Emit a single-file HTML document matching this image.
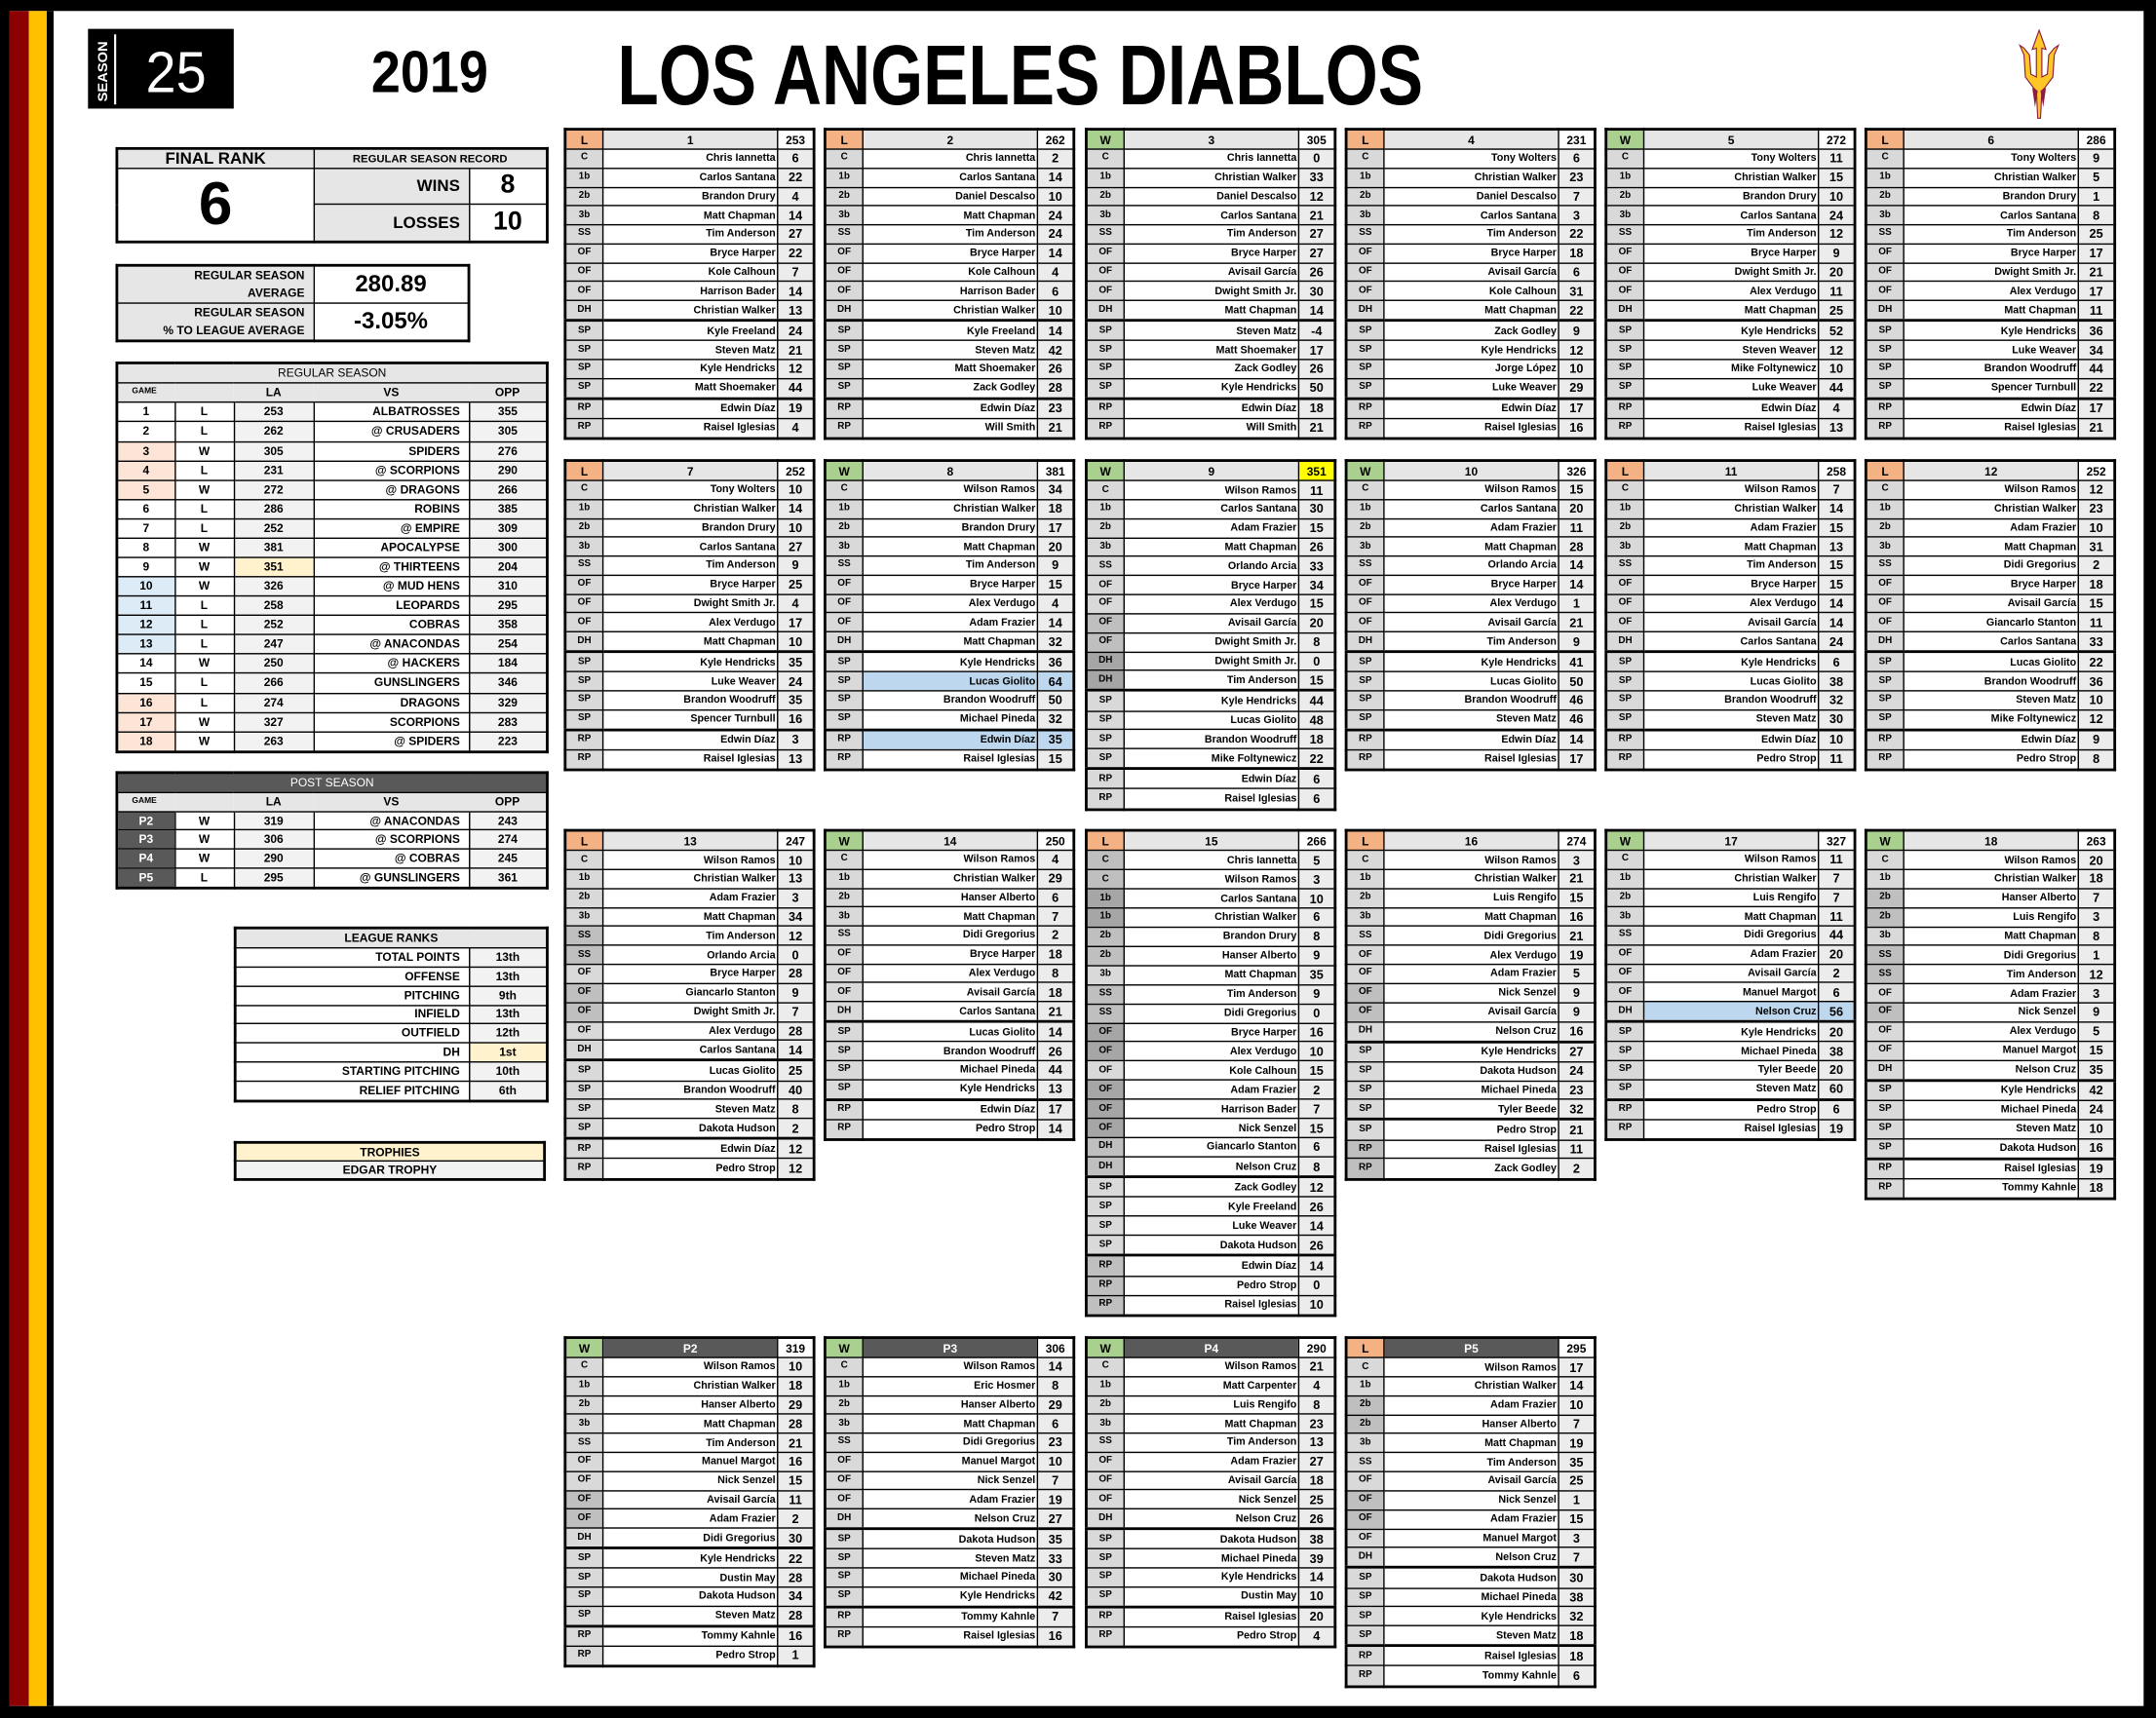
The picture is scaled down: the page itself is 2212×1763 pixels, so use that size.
<!DOCTYPE html>
<html><head><meta charset="utf-8"><style>
html,body{margin:0;padding:0;width:2212px;height:1763px;overflow:hidden;background:#fff}
#w{position:absolute;left:0;top:0;width:1568px;height:1250px;transform:scale(1.41071);transform-origin:0 0;background:#fff;font-family:"Liberation Sans",sans-serif}
.a{position:absolute}
table{position:absolute;border-collapse:collapse;table-layout:fixed;border:2px solid #000}
td{border:1px solid #000;padding:0;white-space:nowrap;overflow:hidden}
.g{width:183px;font:bold 7.6px "Liberation Sans Narrow","Liberation Sans",sans-serif}
.g td{line-height:8px}
.g td:nth-child(1){width:26px;background:#d9d9d9;text-align:center;font-size:7px}
.g td:nth-child(2){background:#fff;text-align:right;padding-right:1px}
.g td:nth-child(3){width:25px;background:#ececec;text-align:center;font-size:9px}
.g tr:first-child td{background:#e7e6e6;text-align:center;font-size:8.5px;padding:0}
.g tr:first-child td:nth-child(3){background:#fff}
.g tr.t td{border-top-width:2px}
.g tr:first-child td.L{background:#f4b183}.g tr:first-child td.W{background:#a9d08e}
.g tr:first-child td.Y{background:#ffff00}
.g tr:first-child td.P{background:#595959;color:#fff}
.g td.d{background:#bfbfbf}.g td.dd{background:#a6a6a6}
.g tr.b td:nth-child(2),.g tr.b td:nth-child(3){background:#bdd7ee}
.r{font:bold 8.5px "Liberation Sans",sans-serif}
.r td{text-align:center;line-height:9px}
.gy{background:#e7e6e6}.lg{background:#f2f2f2}.pe{background:#fce4d6}.bl{background:#ddebf7}.ye{background:#fff2cc}.dk{background:#595959;color:#fff}
.rt{text-align:right!important;padding-right:6px}
</style></head><body><div id="w">
<div class="a" style="left:0;top:0;width:1568px;height:8px;background:#000"></div>
<div class="a" style="left:0;top:1241px;width:1568px;height:9px;background:#000"></div>
<div class="a" style="left:1559px;top:0;width:9px;height:1250px;background:#000"></div>
<div class="a" style="left:0;top:0;width:7px;height:1250px;background:#000"></div>
<div class="a" style="left:7px;top:8px;width:14px;height:1233px;background:#8b0000"></div>
<div class="a" style="left:21px;top:8px;width:13px;height:1233px;background:#ffc000"></div>
<div class="a" style="left:34px;top:8px;width:5px;height:1233px;background:#000"></div>
<svg class="a" style="left:0;top:0" width="1568" height="92">
<rect x="64" y="21" width="106" height="58" fill="#000"/>
<rect x="83" y="25" width="1.5" height="51" fill="#fff"/>
<text transform="translate(78,74) rotate(-90)" font-family="Liberation Sans" font-weight="bold" font-size="10" fill="#fff" textLength="44" lengthAdjust="spacingAndGlyphs">SEASON</text>
<text x="106" y="67" font-family="Liberation Sans" font-size="42" fill="#fff" textLength="44" lengthAdjust="spacingAndGlyphs">25</text>
<text x="270" y="67" font-family="Liberation Sans" font-weight="bold" font-size="43" fill="#000" textLength="85" lengthAdjust="spacingAndGlyphs">2019</text>
<text x="449" y="76" font-family="Liberation Sans" font-weight="bold" font-size="62" fill="#000" textLength="586" lengthAdjust="spacingAndGlyphs">LOS ANGELES DIABLOS</text>
<g fill="#ffc627" stroke="#8c1d40" stroke-width="0.8">
<path d="M1483,22 L1488,36 L1485,35 L1485,56 L1489,54 L1490,40 L1494,35 L1497,33 L1494,40 L1493,56 L1487,64 L1485,66 L1484,86 L1482,86 L1481,66 L1479,64 L1473,56 L1472,40 L1469,33 L1472,35 L1476,40 L1477,54 L1481,56 L1481,35 L1478,36 Z"/>
</g>
<path d="M1478,64 L1480,78 L1482,66 Z M1488,64 L1486,78 L1484,66 Z" fill="#8c1d40"/>
</svg>

<table class="r" style="left:84px;top:107px;width:313px;height:70px">
<colgroup><col style="width:143px"><col style="width:113px"><col style="width:57px"></colgroup>
<tr style="height:14px"><td class="gy" style="font-size:12px">FINAL RANK</td><td class="gy" colspan="2" style="font-size:8px">REGULAR SEASON RECORD</td></tr>
<tr><td rowspan="2" style="font-size:44px;line-height:44px">6</td><td class="gy rt" style="font-size:12px">WINS</td><td style="font-size:19px;line-height:20px">8</td></tr>
<tr><td class="gy rt" style="font-size:12px">LOSSES</td><td style="font-size:19px;line-height:20px">10</td></tr>
</table>
<table class="r" style="left:84px;top:192px;width:256px;height:56px">
<colgroup><col style="width:143px"><col style="width:113px"></colgroup>
<tr><td class="gy rt" style="font-size:8.5px;line-height:13px;padding-right:6px">REGULAR SEASON<br>AVERAGE</td><td style="font-size:17px;line-height:18px">280.89</td></tr>
<tr><td class="gy rt" style="font-size:8.5px;line-height:13px">REGULAR SEASON<br>% TO LEAGUE AVERAGE</td><td style="font-size:17px;line-height:18px">-3.05%</td></tr>
</table>
<table class="r" style="left:84px;top:263px;width:313px;height:285px">
<colgroup><col style="width:42px"><col style="width:43px"><col style="width:58px"><col style="width:113px"><col style="width:57px"></colgroup>
<tr><td colspan="5" class="gy" style="font-weight:normal">REGULAR SEASON</td></tr>
<tr class="gy"><td style="font-size:6px;text-align:left;padding-left:10px;border-right:0">GAME</td><td style="border-left:0;border-right:0"></td><td style="border-left:0;border-right:0">LA</td><td style="border-left:0;border-right:0">VS</td><td style="border-left:0">OPP</td></tr>
<tr><td>1</td><td>L</td><td class="lg">253</td><td class="rt">ALBATROSSES</td><td class="lg">355</td></tr>
<tr><td>2</td><td>L</td><td class="lg">262</td><td class="rt">@ CRUSADERS</td><td class="lg">305</td></tr>
<tr><td class="pe">3</td><td>W</td><td class="lg">305</td><td class="rt">SPIDERS</td><td class="lg">276</td></tr>
<tr><td class="pe">4</td><td>L</td><td class="lg">231</td><td class="rt">@ SCORPIONS</td><td class="lg">290</td></tr>
<tr><td class="pe">5</td><td>W</td><td class="lg">272</td><td class="rt">@ DRAGONS</td><td class="lg">266</td></tr>
<tr><td>6</td><td>L</td><td class="lg">286</td><td class="rt">ROBINS</td><td class="lg">385</td></tr>
<tr><td>7</td><td>L</td><td class="lg">252</td><td class="rt">@ EMPIRE</td><td class="lg">309</td></tr>
<tr><td>8</td><td>W</td><td class="lg">381</td><td class="rt">APOCALYPSE</td><td class="lg">300</td></tr>
<tr><td>9</td><td>W</td><td class="ye">351</td><td class="rt">@ THIRTEENS</td><td class="lg">204</td></tr>
<tr><td class="bl">10</td><td>W</td><td class="lg">326</td><td class="rt">@ MUD HENS</td><td class="lg">310</td></tr>
<tr><td class="bl">11</td><td>L</td><td class="lg">258</td><td class="rt">LEOPARDS</td><td class="lg">295</td></tr>
<tr><td class="bl">12</td><td>L</td><td class="lg">252</td><td class="rt">COBRAS</td><td class="lg">358</td></tr>
<tr><td class="bl">13</td><td>L</td><td class="lg">247</td><td class="rt">@ ANACONDAS</td><td class="lg">254</td></tr>
<tr><td>14</td><td>W</td><td class="lg">250</td><td class="rt">@ HACKERS</td><td class="lg">184</td></tr>
<tr><td>15</td><td>L</td><td class="lg">266</td><td class="rt">GUNSLINGERS</td><td class="lg">346</td></tr>
<tr><td class="pe">16</td><td>L</td><td class="lg">274</td><td class="rt">DRAGONS</td><td class="lg">329</td></tr>
<tr><td class="pe">17</td><td>W</td><td class="lg">327</td><td class="rt">SCORPIONS</td><td class="lg">283</td></tr>
<tr><td class="pe">18</td><td>W</td><td class="lg">263</td><td class="rt">@ SPIDERS</td><td class="lg">223</td></tr>
</table>
<table class="r" style="left:84px;top:561px;width:313px;height:86px">
<colgroup><col style="width:42px"><col style="width:43px"><col style="width:58px"><col style="width:113px"><col style="width:57px"></colgroup>
<tr><td colspan="5" class="dk" style="font-weight:normal">POST SEASON</td></tr>
<tr class="gy"><td style="font-size:6px;text-align:left;padding-left:10px;border-right:0">GAME</td><td style="border-left:0;border-right:0"></td><td style="border-left:0;border-right:0">LA</td><td style="border-left:0;border-right:0">VS</td><td style="border-left:0">OPP</td></tr>
<tr><td class="dk">P2</td><td>W</td><td class="lg">319</td><td class="rt">@ ANACONDAS</td><td class="lg">243</td></tr>
<tr><td class="dk">P3</td><td>W</td><td class="lg">306</td><td class="rt">@ SCORPIONS</td><td class="lg">274</td></tr>
<tr><td class="dk">P4</td><td>W</td><td class="lg">290</td><td class="rt">@ COBRAS</td><td class="lg">245</td></tr>
<tr><td class="dk">P5</td><td>L</td><td class="lg">295</td><td class="rt">@ GUNSLINGERS</td><td class="lg">361</td></tr>
</table>
<table class="r" style="left:170px;top:674px;width:227px;height:128px">
<colgroup><col style="width:170px"><col style="width:57px"></colgroup>
<tr><td colspan="2" class="gy">LEAGUE RANKS</td></tr>
<tr><td class="rt">TOTAL POINTS</td><td class="lg">13th</td></tr>
<tr><td class="rt">OFFENSE</td><td class="lg">13th</td></tr>
<tr><td class="rt">PITCHING</td><td class="lg">9th</td></tr>
<tr><td class="rt">INFIELD</td><td class="lg">13th</td></tr>
<tr><td class="rt">OUTFIELD</td><td class="lg">12th</td></tr>
<tr><td class="rt">DH</td><td class="ye">1st</td></tr>
<tr><td class="rt">STARTING PITCHING</td><td class="lg">10th</td></tr>
<tr><td class="rt">RELIEF PITCHING</td><td class="lg">6th</td></tr>
</table>
<table class="r" style="left:170px;top:830px;width:227px;height:29px">
<tr><td class="ye">TROPHIES</td></tr>
<tr><td class="lg">EDGAR TROPHY</td></tr>
</table>

<!-- ROW 1 -->
<table class="g" style="left:410px;top:93px;height:227px">
<tr><td class="L">L</td><td>1</td><td>253</td></tr>
<tr><td>C</td><td>Chris Iannetta</td><td>6</td></tr>
<tr><td>1b</td><td>Carlos Santana</td><td>22</td></tr>
<tr><td>2b</td><td>Brandon Drury</td><td>4</td></tr>
<tr><td>3b</td><td>Matt Chapman</td><td>14</td></tr>
<tr><td>SS</td><td>Tim Anderson</td><td>27</td></tr>
<tr><td>OF</td><td>Bryce Harper</td><td>22</td></tr>
<tr><td>OF</td><td>Kole Calhoun</td><td>7</td></tr>
<tr><td>OF</td><td>Harrison Bader</td><td>14</td></tr>
<tr><td>DH</td><td>Christian Walker</td><td>13</td></tr>
<tr class="t"><td>SP</td><td>Kyle Freeland</td><td>24</td></tr>
<tr><td>SP</td><td>Steven Matz</td><td>21</td></tr>
<tr><td>SP</td><td>Kyle Hendricks</td><td>12</td></tr>
<tr><td>SP</td><td>Matt Shoemaker</td><td>44</td></tr>
<tr class="t"><td>RP</td><td>Edwin Díaz</td><td>19</td></tr>
<tr><td>RP</td><td>Raisel Iglesias</td><td>4</td></tr>
</table>
<table class="g" style="left:599px;top:93px;height:227px">
<tr><td class="L">L</td><td>2</td><td>262</td></tr>
<tr><td>C</td><td>Chris Iannetta</td><td>2</td></tr>
<tr><td>1b</td><td>Carlos Santana</td><td>14</td></tr>
<tr><td>2b</td><td>Daniel Descalso</td><td>10</td></tr>
<tr><td>3b</td><td>Matt Chapman</td><td>24</td></tr>
<tr><td>SS</td><td>Tim Anderson</td><td>24</td></tr>
<tr><td>OF</td><td>Bryce Harper</td><td>14</td></tr>
<tr><td>OF</td><td>Kole Calhoun</td><td>4</td></tr>
<tr><td>OF</td><td>Harrison Bader</td><td>6</td></tr>
<tr><td>DH</td><td>Christian Walker</td><td>10</td></tr>
<tr class="t"><td>SP</td><td>Kyle Freeland</td><td>14</td></tr>
<tr><td>SP</td><td>Steven Matz</td><td>42</td></tr>
<tr><td>SP</td><td>Matt Shoemaker</td><td>26</td></tr>
<tr><td>SP</td><td>Zack Godley</td><td>28</td></tr>
<tr class="t"><td>RP</td><td>Edwin Díaz</td><td>23</td></tr>
<tr><td>RP</td><td>Will Smith</td><td>21</td></tr>
</table>
<table class="g" style="left:789px;top:93px;height:227px">
<tr><td class="W">W</td><td>3</td><td>305</td></tr>
<tr><td>C</td><td>Chris Iannetta</td><td>0</td></tr>
<tr><td>1b</td><td>Christian Walker</td><td>33</td></tr>
<tr><td>2b</td><td>Daniel Descalso</td><td>12</td></tr>
<tr><td>3b</td><td>Carlos Santana</td><td>21</td></tr>
<tr><td>SS</td><td>Tim Anderson</td><td>27</td></tr>
<tr><td>OF</td><td>Bryce Harper</td><td>27</td></tr>
<tr><td>OF</td><td>Avisail García</td><td>26</td></tr>
<tr><td>OF</td><td>Dwight Smith Jr.</td><td>30</td></tr>
<tr><td>DH</td><td>Matt Chapman</td><td>14</td></tr>
<tr class="t"><td>SP</td><td>Steven Matz</td><td>-4</td></tr>
<tr><td>SP</td><td>Matt Shoemaker</td><td>17</td></tr>
<tr><td>SP</td><td>Zack Godley</td><td>26</td></tr>
<tr><td>SP</td><td>Kyle Hendricks</td><td>50</td></tr>
<tr class="t"><td>RP</td><td>Edwin Díaz</td><td>18</td></tr>
<tr><td>RP</td><td>Will Smith</td><td>21</td></tr>
</table>
<table class="g" style="left:978px;top:93px;height:227px">
<tr><td class="L">L</td><td>4</td><td>231</td></tr>
<tr><td>C</td><td>Tony Wolters</td><td>6</td></tr>
<tr><td>1b</td><td>Christian Walker</td><td>23</td></tr>
<tr><td>2b</td><td>Daniel Descalso</td><td>7</td></tr>
<tr><td>3b</td><td>Carlos Santana</td><td>3</td></tr>
<tr><td>SS</td><td>Tim Anderson</td><td>22</td></tr>
<tr><td>OF</td><td>Bryce Harper</td><td>18</td></tr>
<tr><td>OF</td><td>Avisail García</td><td>6</td></tr>
<tr><td>OF</td><td>Kole Calhoun</td><td>31</td></tr>
<tr><td>DH</td><td>Matt Chapman</td><td>22</td></tr>
<tr class="t"><td>SP</td><td>Zack Godley</td><td>9</td></tr>
<tr><td>SP</td><td>Kyle Hendricks</td><td>12</td></tr>
<tr><td>SP</td><td>Jorge López</td><td>10</td></tr>
<tr><td>SP</td><td>Luke Weaver</td><td>29</td></tr>
<tr class="t"><td>RP</td><td>Edwin Díaz</td><td>17</td></tr>
<tr><td>RP</td><td>Raisel Iglesias</td><td>16</td></tr>
</table>
<table class="g" style="left:1167px;top:93px;height:227px">
<tr><td class="W">W</td><td>5</td><td>272</td></tr>
<tr><td>C</td><td>Tony Wolters</td><td>11</td></tr>
<tr><td>1b</td><td>Christian Walker</td><td>15</td></tr>
<tr><td>2b</td><td>Brandon Drury</td><td>10</td></tr>
<tr><td>3b</td><td>Carlos Santana</td><td>24</td></tr>
<tr><td>SS</td><td>Tim Anderson</td><td>12</td></tr>
<tr><td>OF</td><td>Bryce Harper</td><td>9</td></tr>
<tr><td>OF</td><td>Dwight Smith Jr.</td><td>20</td></tr>
<tr><td>OF</td><td>Alex Verdugo</td><td>11</td></tr>
<tr><td>DH</td><td>Matt Chapman</td><td>25</td></tr>
<tr class="t"><td>SP</td><td>Kyle Hendricks</td><td>52</td></tr>
<tr><td>SP</td><td>Steven Weaver</td><td>12</td></tr>
<tr><td>SP</td><td>Mike Foltynewicz</td><td>10</td></tr>
<tr><td>SP</td><td>Luke Weaver</td><td>44</td></tr>
<tr class="t"><td>RP</td><td>Edwin Díaz</td><td>4</td></tr>
<tr><td>RP</td><td>Raisel Iglesias</td><td>13</td></tr>
</table>
<table class="g" style="left:1356px;top:93px;height:227px">
<tr><td class="L">L</td><td>6</td><td>286</td></tr>
<tr><td>C</td><td>Tony Wolters</td><td>9</td></tr>
<tr><td>1b</td><td>Christian Walker</td><td>5</td></tr>
<tr><td>2b</td><td>Brandon Drury</td><td>1</td></tr>
<tr><td>3b</td><td>Carlos Santana</td><td>8</td></tr>
<tr><td>SS</td><td>Tim Anderson</td><td>25</td></tr>
<tr><td>OF</td><td>Bryce Harper</td><td>17</td></tr>
<tr><td>OF</td><td>Dwight Smith Jr.</td><td>21</td></tr>
<tr><td>OF</td><td>Alex Verdugo</td><td>17</td></tr>
<tr><td>DH</td><td>Matt Chapman</td><td>11</td></tr>
<tr class="t"><td>SP</td><td>Kyle Hendricks</td><td>36</td></tr>
<tr><td>SP</td><td>Luke Weaver</td><td>34</td></tr>
<tr><td>SP</td><td>Brandon Woodruff</td><td>44</td></tr>
<tr><td>SP</td><td>Spencer Turnbull</td><td>22</td></tr>
<tr class="t"><td>RP</td><td>Edwin Díaz</td><td>17</td></tr>
<tr><td>RP</td><td>Raisel Iglesias</td><td>21</td></tr>
</table>

<!-- ROW 2 -->
<table class="g" style="left:410px;top:334px;height:227px">
<tr><td class="L">L</td><td>7</td><td>252</td></tr>
<tr><td>C</td><td>Tony Wolters</td><td>10</td></tr>
<tr><td>1b</td><td>Christian Walker</td><td>14</td></tr>
<tr><td>2b</td><td>Brandon Drury</td><td>10</td></tr>
<tr><td>3b</td><td>Carlos Santana</td><td>27</td></tr>
<tr><td>SS</td><td>Tim Anderson</td><td>9</td></tr>
<tr><td>OF</td><td>Bryce Harper</td><td>25</td></tr>
<tr><td>OF</td><td>Dwight Smith Jr.</td><td>4</td></tr>
<tr><td>OF</td><td>Alex Verdugo</td><td>17</td></tr>
<tr><td>DH</td><td>Matt Chapman</td><td>10</td></tr>
<tr class="t"><td>SP</td><td>Kyle Hendricks</td><td>35</td></tr>
<tr><td>SP</td><td>Luke Weaver</td><td>24</td></tr>
<tr><td>SP</td><td>Brandon Woodruff</td><td>35</td></tr>
<tr><td>SP</td><td>Spencer Turnbull</td><td>16</td></tr>
<tr class="t"><td>RP</td><td>Edwin Díaz</td><td>3</td></tr>
<tr><td>RP</td><td>Raisel Iglesias</td><td>13</td></tr>
</table>
<table class="g" style="left:599px;top:334px;height:227px">
<tr><td class="W">W</td><td>8</td><td>381</td></tr>
<tr><td>C</td><td>Wilson Ramos</td><td>34</td></tr>
<tr><td>1b</td><td>Christian Walker</td><td>18</td></tr>
<tr><td>2b</td><td>Brandon Drury</td><td>17</td></tr>
<tr><td>3b</td><td>Matt Chapman</td><td>20</td></tr>
<tr><td>SS</td><td>Tim Anderson</td><td>9</td></tr>
<tr><td>OF</td><td>Bryce Harper</td><td>15</td></tr>
<tr><td>OF</td><td>Alex Verdugo</td><td>4</td></tr>
<tr><td>OF</td><td>Adam Frazier</td><td>14</td></tr>
<tr><td>DH</td><td>Matt Chapman</td><td>32</td></tr>
<tr class="t"><td>SP</td><td>Kyle Hendricks</td><td>36</td></tr>
<tr class="b"><td>SP</td><td>Lucas Giolito</td><td>64</td></tr>
<tr><td>SP</td><td>Brandon Woodruff</td><td>50</td></tr>
<tr><td>SP</td><td>Michael Pineda</td><td>32</td></tr>
<tr class="t b"><td>RP</td><td>Edwin Díaz</td><td>35</td></tr>
<tr><td>RP</td><td>Raisel Iglesias</td><td>15</td></tr>
</table>
<table class="g" style="left:789px;top:334px;height:255.6px">
<tr><td class="W">W</td><td>9</td><td class="Y">351</td></tr>
<tr><td>C</td><td>Wilson Ramos</td><td>11</td></tr>
<tr><td>1b</td><td>Carlos Santana</td><td>30</td></tr>
<tr><td>2b</td><td>Adam Frazier</td><td>15</td></tr>
<tr><td>3b</td><td>Matt Chapman</td><td>26</td></tr>
<tr><td>SS</td><td>Orlando Arcia</td><td>33</td></tr>
<tr><td>OF</td><td>Bryce Harper</td><td>34</td></tr>
<tr><td>OF</td><td>Alex Verdugo</td><td>15</td></tr>
<tr><td class="d">OF</td><td>Avisail García</td><td>20</td></tr>
<tr><td class="d">OF</td><td>Dwight Smith Jr.</td><td>8</td></tr>
<tr><td class="dd">DH</td><td>Dwight Smith Jr.</td><td>0</td></tr>
<tr><td class="dd">DH</td><td>Tim Anderson</td><td>15</td></tr>
<tr class="t"><td>SP</td><td>Kyle Hendricks</td><td>44</td></tr>
<tr><td>SP</td><td>Lucas Giolito</td><td>48</td></tr>
<tr><td>SP</td><td>Brandon Woodruff</td><td>18</td></tr>
<tr><td>SP</td><td>Mike Foltynewicz</td><td>22</td></tr>
<tr class="t"><td>RP</td><td>Edwin Díaz</td><td>6</td></tr>
<tr><td>RP</td><td>Raisel Iglesias</td><td>6</td></tr>
</table>
<table class="g" style="left:978px;top:334px;height:227px">
<tr><td class="W">W</td><td>10</td><td>326</td></tr>
<tr><td>C</td><td>Wilson Ramos</td><td>15</td></tr>
<tr><td>1b</td><td>Carlos Santana</td><td>20</td></tr>
<tr><td>2b</td><td>Adam Frazier</td><td>11</td></tr>
<tr><td>3b</td><td>Matt Chapman</td><td>28</td></tr>
<tr><td>SS</td><td>Orlando Arcia</td><td>14</td></tr>
<tr><td>OF</td><td>Bryce Harper</td><td>14</td></tr>
<tr><td>OF</td><td>Alex Verdugo</td><td>1</td></tr>
<tr><td>OF</td><td>Avisail García</td><td>21</td></tr>
<tr><td>DH</td><td>Tim Anderson</td><td>9</td></tr>
<tr class="t"><td>SP</td><td>Kyle Hendricks</td><td>41</td></tr>
<tr><td>SP</td><td>Lucas Giolito</td><td>50</td></tr>
<tr><td>SP</td><td>Brandon Woodruff</td><td>46</td></tr>
<tr><td>SP</td><td>Steven Matz</td><td>46</td></tr>
<tr class="t"><td>RP</td><td>Edwin Díaz</td><td>14</td></tr>
<tr><td>RP</td><td>Raisel Iglesias</td><td>17</td></tr>
</table>
<table class="g" style="left:1167px;top:334px;height:227px">
<tr><td class="L">L</td><td>11</td><td>258</td></tr>
<tr><td>C</td><td>Wilson Ramos</td><td>7</td></tr>
<tr><td>1b</td><td>Christian Walker</td><td>14</td></tr>
<tr><td>2b</td><td>Adam Frazier</td><td>15</td></tr>
<tr><td>3b</td><td>Matt Chapman</td><td>13</td></tr>
<tr><td>SS</td><td>Tim Anderson</td><td>15</td></tr>
<tr><td>OF</td><td>Bryce Harper</td><td>15</td></tr>
<tr><td>OF</td><td>Alex Verdugo</td><td>14</td></tr>
<tr><td>OF</td><td>Avisail García</td><td>14</td></tr>
<tr><td>DH</td><td>Carlos Santana</td><td>24</td></tr>
<tr class="t"><td>SP</td><td>Kyle Hendricks</td><td>6</td></tr>
<tr><td>SP</td><td>Lucas Giolito</td><td>38</td></tr>
<tr><td>SP</td><td>Brandon Woodruff</td><td>32</td></tr>
<tr><td>SP</td><td>Steven Matz</td><td>30</td></tr>
<tr class="t"><td>RP</td><td>Edwin Díaz</td><td>10</td></tr>
<tr><td>RP</td><td>Pedro Strop</td><td>11</td></tr>
</table>
<table class="g" style="left:1356px;top:334px;height:227px">
<tr><td class="L">L</td><td>12</td><td>252</td></tr>
<tr><td>C</td><td>Wilson Ramos</td><td>12</td></tr>
<tr><td>1b</td><td>Christian Walker</td><td>23</td></tr>
<tr><td>2b</td><td>Adam Frazier</td><td>10</td></tr>
<tr><td>3b</td><td>Matt Chapman</td><td>31</td></tr>
<tr><td>SS</td><td>Didi Gregorius</td><td>2</td></tr>
<tr><td>OF</td><td>Bryce Harper</td><td>18</td></tr>
<tr><td>OF</td><td>Avisail García</td><td>15</td></tr>
<tr><td>OF</td><td>Giancarlo Stanton</td><td>11</td></tr>
<tr><td>DH</td><td>Carlos Santana</td><td>33</td></tr>
<tr class="t"><td>SP</td><td>Lucas Giolito</td><td>22</td></tr>
<tr><td>SP</td><td>Brandon Woodruff</td><td>36</td></tr>
<tr><td>SP</td><td>Steven Matz</td><td>10</td></tr>
<tr><td>SP</td><td>Mike Foltynewicz</td><td>12</td></tr>
<tr class="t"><td>RP</td><td>Edwin Díaz</td><td>9</td></tr>
<tr><td>RP</td><td>Pedro Strop</td><td>8</td></tr>
</table>

<!-- ROW 3 -->
<table class="g" style="left:410px;top:603px;height:255.6px">
<tr><td class="L">L</td><td>13</td><td>247</td></tr>
<tr><td>C</td><td>Wilson Ramos</td><td>10</td></tr>
<tr><td>1b</td><td>Christian Walker</td><td>13</td></tr>
<tr><td>2b</td><td>Adam Frazier</td><td>3</td></tr>
<tr><td>3b</td><td>Matt Chapman</td><td>34</td></tr>
<tr><td class="d">SS</td><td>Tim Anderson</td><td>12</td></tr>
<tr><td class="d">SS</td><td>Orlando Arcia</td><td>0</td></tr>
<tr><td>OF</td><td>Bryce Harper</td><td>28</td></tr>
<tr><td class="d">OF</td><td>Giancarlo Stanton</td><td>9</td></tr>
<tr><td class="d">OF</td><td>Dwight Smith Jr.</td><td>7</td></tr>
<tr><td>OF</td><td>Alex Verdugo</td><td>28</td></tr>
<tr><td>DH</td><td>Carlos Santana</td><td>14</td></tr>
<tr class="t"><td>SP</td><td>Lucas Giolito</td><td>25</td></tr>
<tr><td>SP</td><td>Brandon Woodruff</td><td>40</td></tr>
<tr><td>SP</td><td>Steven Matz</td><td>8</td></tr>
<tr><td>SP</td><td>Dakota Hudson</td><td>2</td></tr>
<tr class="t"><td>RP</td><td>Edwin Díaz</td><td>12</td></tr>
<tr><td>RP</td><td>Pedro Strop</td><td>12</td></tr>
</table>
<table class="g" style="left:599px;top:603px;height:227px">
<tr><td class="W">W</td><td>14</td><td>250</td></tr>
<tr><td>C</td><td>Wilson Ramos</td><td>4</td></tr>
<tr><td>1b</td><td>Christian Walker</td><td>29</td></tr>
<tr><td>2b</td><td>Hanser Alberto</td><td>6</td></tr>
<tr><td>3b</td><td>Matt Chapman</td><td>7</td></tr>
<tr><td>SS</td><td>Didi Gregorius</td><td>2</td></tr>
<tr><td>OF</td><td>Bryce Harper</td><td>18</td></tr>
<tr><td>OF</td><td>Alex Verdugo</td><td>8</td></tr>
<tr><td>OF</td><td>Avisail García</td><td>18</td></tr>
<tr><td>DH</td><td>Carlos Santana</td><td>21</td></tr>
<tr class="t"><td>SP</td><td>Lucas Giolito</td><td>14</td></tr>
<tr><td>SP</td><td>Brandon Woodruff</td><td>26</td></tr>
<tr><td>SP</td><td>Michael Pineda</td><td>44</td></tr>
<tr><td>SP</td><td>Kyle Hendricks</td><td>13</td></tr>
<tr class="t"><td>RP</td><td>Edwin Díaz</td><td>17</td></tr>
<tr><td>RP</td><td>Pedro Strop</td><td>14</td></tr>
</table>
<table class="g" style="left:789px;top:603px;height:355px">
<tr><td class="L">L</td><td>15</td><td>266</td></tr>
<tr><td class="d">C</td><td>Chris Iannetta</td><td>5</td></tr>
<tr><td class="d">C</td><td>Wilson Ramos</td><td>3</td></tr>
<tr><td class="dd">1b</td><td>Carlos Santana</td><td>10</td></tr>
<tr><td class="dd">1b</td><td>Christian Walker</td><td>6</td></tr>
<tr><td class="d">2b</td><td>Brandon Drury</td><td>8</td></tr>
<tr><td class="d">2b</td><td>Hanser Alberto</td><td>9</td></tr>
<tr><td>3b</td><td>Matt Chapman</td><td>35</td></tr>
<tr><td class="d">SS</td><td>Tim Anderson</td><td>9</td></tr>
<tr><td class="d">SS</td><td>Didi Gregorius</td><td>0</td></tr>
<tr><td class="dd">OF</td><td>Bryce Harper</td><td>16</td></tr>
<tr><td class="dd">OF</td><td>Alex Verdugo</td><td>10</td></tr>
<tr><td>OF</td><td>Kole Calhoun</td><td>15</td></tr>
<tr><td class="dd">OF</td><td>Adam Frazier</td><td>2</td></tr>
<tr><td class="dd">OF</td><td>Harrison Bader</td><td>7</td></tr>
<tr><td class="dd">OF</td><td>Nick Senzel</td><td>15</td></tr>
<tr><td class="d">DH</td><td>Giancarlo Stanton</td><td>6</td></tr>
<tr><td class="d">DH</td><td>Nelson Cruz</td><td>8</td></tr>
<tr class="t"><td>SP</td><td>Zack Godley</td><td>12</td></tr>
<tr><td>SP</td><td>Kyle Freeland</td><td>26</td></tr>
<tr><td>SP</td><td>Luke Weaver</td><td>14</td></tr>
<tr><td>SP</td><td>Dakota Hudson</td><td>26</td></tr>
<tr class="t"><td class="d">RP</td><td>Edwin Díaz</td><td>14</td></tr>
<tr><td class="d">RP</td><td>Pedro Strop</td><td>0</td></tr>
<tr><td class="d">RP</td><td>Raisel Iglesias</td><td>10</td></tr>
</table>
<table class="g" style="left:978px;top:603px;height:255.6px">
<tr><td class="L">L</td><td>16</td><td>274</td></tr>
<tr><td>C</td><td>Wilson Ramos</td><td>3</td></tr>
<tr><td>1b</td><td>Christian Walker</td><td>21</td></tr>
<tr><td>2b</td><td>Luis Rengifo</td><td>15</td></tr>
<tr><td>3b</td><td>Matt Chapman</td><td>16</td></tr>
<tr><td>SS</td><td>Didi Gregorius</td><td>21</td></tr>
<tr><td>OF</td><td>Alex Verdugo</td><td>19</td></tr>
<tr><td>OF</td><td>Adam Frazier</td><td>5</td></tr>
<tr><td class="d">OF</td><td>Nick Senzel</td><td>9</td></tr>
<tr><td class="d">OF</td><td>Avisail García</td><td>9</td></tr>
<tr><td>DH</td><td>Nelson Cruz</td><td>16</td></tr>
<tr class="t"><td>SP</td><td>Kyle Hendricks</td><td>27</td></tr>
<tr><td>SP</td><td>Dakota Hudson</td><td>24</td></tr>
<tr><td>SP</td><td>Michael Pineda</td><td>23</td></tr>
<tr><td>SP</td><td>Tyler Beede</td><td>32</td></tr>
<tr class="t"><td>SP</td><td>Pedro Strop</td><td>21</td></tr>
<tr><td class="d">RP</td><td>Raisel Iglesias</td><td>11</td></tr>
<tr><td class="d">RP</td><td>Zack Godley</td><td>2</td></tr>
</table>
<table class="g" style="left:1167px;top:603px;height:227px">
<tr><td class="W">W</td><td>17</td><td>327</td></tr>
<tr><td>C</td><td>Wilson Ramos</td><td>11</td></tr>
<tr><td>1b</td><td>Christian Walker</td><td>7</td></tr>
<tr><td>2b</td><td>Luis Rengifo</td><td>7</td></tr>
<tr><td>3b</td><td>Matt Chapman</td><td>11</td></tr>
<tr><td>SS</td><td>Didi Gregorius</td><td>44</td></tr>
<tr><td>OF</td><td>Adam Frazier</td><td>20</td></tr>
<tr><td>OF</td><td>Avisail García</td><td>2</td></tr>
<tr><td>OF</td><td>Manuel Margot</td><td>6</td></tr>
<tr class="b"><td>DH</td><td>Nelson Cruz</td><td>56</td></tr>
<tr class="t"><td>SP</td><td>Kyle Hendricks</td><td>20</td></tr>
<tr><td>SP</td><td>Michael Pineda</td><td>38</td></tr>
<tr><td>SP</td><td>Tyler Beede</td><td>20</td></tr>
<tr><td>SP</td><td>Steven Matz</td><td>60</td></tr>
<tr class="t"><td>RP</td><td>Pedro Strop</td><td>6</td></tr>
<tr><td>RP</td><td>Raisel Iglesias</td><td>19</td></tr>
</table>
<table class="g" style="left:1356px;top:603px;height:270px">
<tr><td class="W">W</td><td>18</td><td>263</td></tr>
<tr><td>C</td><td>Wilson Ramos</td><td>20</td></tr>
<tr><td>1b</td><td>Christian Walker</td><td>18</td></tr>
<tr><td class="d">2b</td><td>Hanser Alberto</td><td>7</td></tr>
<tr><td class="d">2b</td><td>Luis Rengifo</td><td>3</td></tr>
<tr><td>3b</td><td>Matt Chapman</td><td>8</td></tr>
<tr><td class="d">SS</td><td>Didi Gregorius</td><td>1</td></tr>
<tr><td class="d">SS</td><td>Tim Anderson</td><td>12</td></tr>
<tr><td>OF</td><td>Adam Frazier</td><td>3</td></tr>
<tr><td class="d">OF</td><td>Nick Senzel</td><td>9</td></tr>
<tr><td>OF</td><td>Alex Verdugo</td><td>5</td></tr>
<tr><td>OF</td><td>Manuel Margot</td><td>15</td></tr>
<tr><td>DH</td><td>Nelson Cruz</td><td>35</td></tr>
<tr class="t"><td>SP</td><td>Kyle Hendricks</td><td>42</td></tr>
<tr><td>SP</td><td>Michael Pineda</td><td>24</td></tr>
<tr><td>SP</td><td>Steven Matz</td><td>10</td></tr>
<tr><td>SP</td><td>Dakota Hudson</td><td>16</td></tr>
<tr class="t"><td>RP</td><td>Raisel Iglesias</td><td>19</td></tr>
<tr><td>RP</td><td>Tommy Kahnle</td><td>18</td></tr>
</table>

<!-- POST -->
<table class="g" style="left:410px;top:972px;height:241px">
<tr><td class="W">W</td><td class="P">P2</td><td>319</td></tr>
<tr><td>C</td><td>Wilson Ramos</td><td>10</td></tr>
<tr><td>1b</td><td>Christian Walker</td><td>18</td></tr>
<tr><td>2b</td><td>Hanser Alberto</td><td>29</td></tr>
<tr><td>3b</td><td>Matt Chapman</td><td>28</td></tr>
<tr><td>SS</td><td>Tim Anderson</td><td>21</td></tr>
<tr><td>OF</td><td>Manuel Margot</td><td>16</td></tr>
<tr><td>OF</td><td>Nick Senzel</td><td>15</td></tr>
<tr><td class="d">OF</td><td>Avisail García</td><td>11</td></tr>
<tr><td class="d">OF</td><td>Adam Frazier</td><td>2</td></tr>
<tr><td>DH</td><td>Didi Gregorius</td><td>30</td></tr>
<tr class="t"><td>SP</td><td>Kyle Hendricks</td><td>22</td></tr>
<tr><td>SP</td><td>Dustin May</td><td>28</td></tr>
<tr><td>SP</td><td>Dakota Hudson</td><td>34</td></tr>
<tr><td>SP</td><td>Steven Matz</td><td>28</td></tr>
<tr class="t"><td>RP</td><td>Tommy Kahnle</td><td>16</td></tr>
<tr><td>RP</td><td>Pedro Strop</td><td>1</td></tr>
</table>
<table class="g" style="left:599px;top:972px;height:227px">
<tr><td class="W">W</td><td class="P">P3</td><td>306</td></tr>
<tr><td>C</td><td>Wilson Ramos</td><td>14</td></tr>
<tr><td>1b</td><td>Eric Hosmer</td><td>8</td></tr>
<tr><td>2b</td><td>Hanser Alberto</td><td>29</td></tr>
<tr><td>3b</td><td>Matt Chapman</td><td>6</td></tr>
<tr><td>SS</td><td>Didi Gregorius</td><td>23</td></tr>
<tr><td>OF</td><td>Manuel Margot</td><td>10</td></tr>
<tr><td>OF</td><td>Nick Senzel</td><td>7</td></tr>
<tr><td>OF</td><td>Adam Frazier</td><td>19</td></tr>
<tr><td>DH</td><td>Nelson Cruz</td><td>27</td></tr>
<tr class="t"><td>SP</td><td>Dakota Hudson</td><td>35</td></tr>
<tr><td>SP</td><td>Steven Matz</td><td>33</td></tr>
<tr><td>SP</td><td>Michael Pineda</td><td>30</td></tr>
<tr><td>SP</td><td>Kyle Hendricks</td><td>42</td></tr>
<tr class="t"><td>RP</td><td>Tommy Kahnle</td><td>7</td></tr>
<tr><td>RP</td><td>Raisel Iglesias</td><td>16</td></tr>
</table>
<table class="g" style="left:789px;top:972px;height:227px">
<tr><td class="W">W</td><td class="P">P4</td><td>290</td></tr>
<tr><td>C</td><td>Wilson Ramos</td><td>21</td></tr>
<tr><td>1b</td><td>Matt Carpenter</td><td>4</td></tr>
<tr><td>2b</td><td>Luis Rengifo</td><td>8</td></tr>
<tr><td>3b</td><td>Matt Chapman</td><td>23</td></tr>
<tr><td>SS</td><td>Tim Anderson</td><td>13</td></tr>
<tr><td>OF</td><td>Adam Frazier</td><td>27</td></tr>
<tr><td>OF</td><td>Avisail García</td><td>18</td></tr>
<tr><td>OF</td><td>Nick Senzel</td><td>25</td></tr>
<tr><td>DH</td><td>Nelson Cruz</td><td>26</td></tr>
<tr class="t"><td>SP</td><td>Dakota Hudson</td><td>38</td></tr>
<tr><td>SP</td><td>Michael Pineda</td><td>39</td></tr>
<tr><td>SP</td><td>Kyle Hendricks</td><td>14</td></tr>
<tr><td>SP</td><td>Dustin May</td><td>10</td></tr>
<tr class="t"><td>RP</td><td>Raisel Iglesias</td><td>20</td></tr>
<tr><td>RP</td><td>Pedro Strop</td><td>4</td></tr>
</table>
<table class="g" style="left:978px;top:972px;height:255.6px">
<tr><td class="L">L</td><td class="P">P5</td><td>295</td></tr>
<tr><td>C</td><td>Wilson Ramos</td><td>17</td></tr>
<tr><td>1b</td><td>Christian Walker</td><td>14</td></tr>
<tr><td class="d">2b</td><td>Adam Frazier</td><td>10</td></tr>
<tr><td class="d">2b</td><td>Hanser Alberto</td><td>7</td></tr>
<tr><td>3b</td><td>Matt Chapman</td><td>19</td></tr>
<tr><td>SS</td><td>Tim Anderson</td><td>35</td></tr>
<tr><td>OF</td><td>Avisail García</td><td>25</td></tr>
<tr><td class="d">OF</td><td>Nick Senzel</td><td>1</td></tr>
<tr><td class="d">OF</td><td>Adam Frazier</td><td>15</td></tr>
<tr><td>OF</td><td>Manuel Margot</td><td>3</td></tr>
<tr><td>DH</td><td>Nelson Cruz</td><td>7</td></tr>
<tr class="t"><td>SP</td><td>Dakota Hudson</td><td>30</td></tr>
<tr><td>SP</td><td>Michael Pineda</td><td>38</td></tr>
<tr><td>SP</td><td>Kyle Hendricks</td><td>32</td></tr>
<tr><td>SP</td><td>Steven Matz</td><td>18</td></tr>
<tr class="t"><td>RP</td><td>Raisel Iglesias</td><td>18</td></tr>
<tr><td>RP</td><td>Tommy Kahnle</td><td>6</td></tr>
</table>
</div></body></html>
